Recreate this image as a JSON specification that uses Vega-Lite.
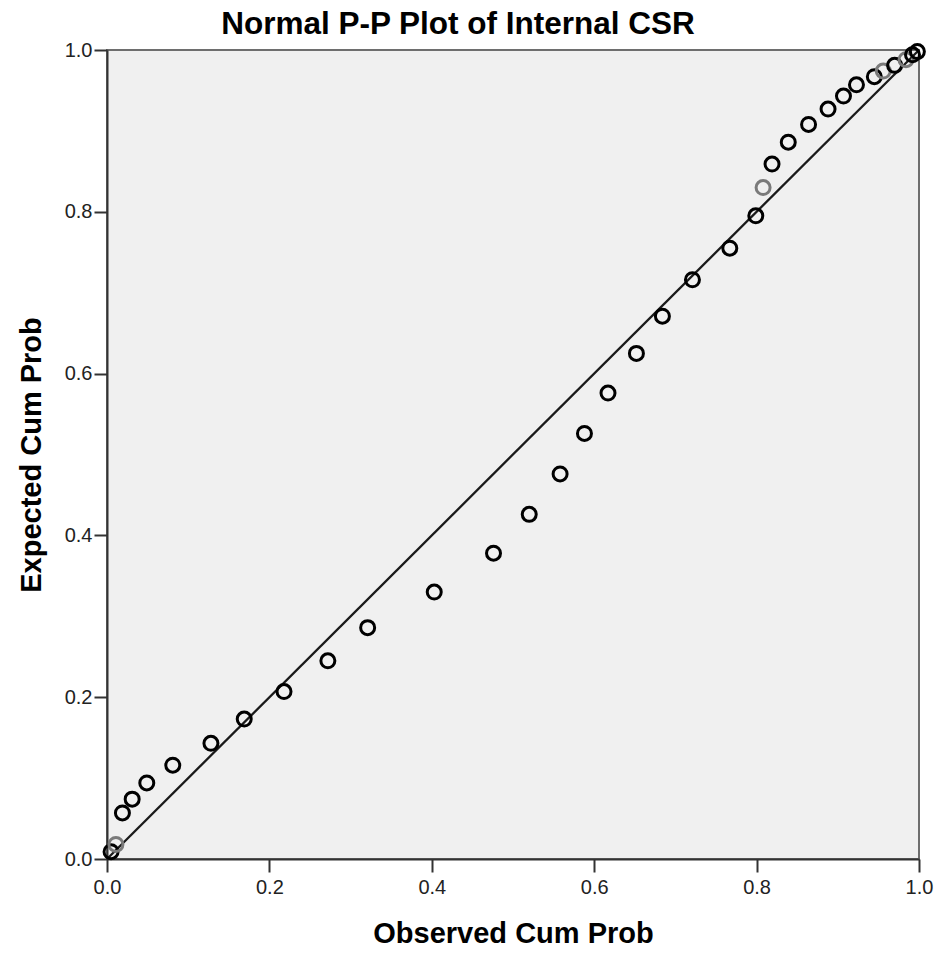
{
  "$schema": "https://vega.github.io/schema/vega-lite/v6.json",
  "autosize": {"type": "none"},
  "padding": {"left": 107, "top": 50, "right": 21, "bottom": 94},
  "width": 812,
  "height": 809,
  "background": "white",
  "config": {
    "font": "Liberation Sans",
    "view": {"fill": "#f0f0f0", "stroke": "#6e6e6e", "strokeWidth": 2}
  },
  "title": {
    "text": "Normal P-P Plot of Internal CSR",
    "font": "Liberation Sans",
    "fontSize": 31.5,
    "fontWeight": "bold",
    "color": "#000000",
    "anchor": "middle",
    "dx": -55,
    "offset": -2
  },
  "layer": [
    {
      "data": {"values": [{"x": 0, "y": 0}, {"x": 1, "y": 1}]},
      "mark": {"type": "line", "color": "#1a1a1a", "strokeWidth": 2.3},
      "encoding": {
        "x": {"field": "x", "type": "quantitative", "scale": {"domain": [0, 1], "nice": false, "zero": false},
          "axis": {"title": "Observed Cum Prob", "values": [0, 0.2, 0.4, 0.6, 0.8, 1], "format": ".1f", "grid": false,
            "domainColor": "#333333", "domainWidth": 2, "tickColor": "#333333", "tickWidth": 2, "tickSize": 13,
            "labelFontSize": 20, "labelColor": "#222222", "labelPadding": 5, "labelFlush": false, "labelOverlap": false,
            "titleFontSize": 29, "titleFontWeight": "bold", "titleColor": "#000000", "titlePadding": 22}},
        "y": {"field": "y", "type": "quantitative", "scale": {"domain": [0, 1], "nice": false, "zero": false},
          "axis": {"title": "Expected Cum Prob", "values": [0, 0.2, 0.4, 0.6, 0.8, 1], "format": ".1f", "grid": false,
            "domainColor": "#333333", "domainWidth": 2, "tickColor": "#333333", "tickWidth": 2, "tickSize": 13,
            "labelFontSize": 20, "labelColor": "#222222", "labelPadding": 2, "labelFlush": false, "labelOverlap": false,
            "titleFontSize": 29, "titleFontWeight": "bold", "titleColor": "#000000", "titlePadding": 18}}
      }
    },
    {
      "data": {"values": [
        {"x": 0.005, "y": 0.009, "cases": "multiple"},
        {"x": 0.011, "y": 0.018, "cases": "single"},
        {"x": 0.019, "y": 0.057, "cases": "multiple"},
        {"x": 0.031, "y": 0.074, "cases": "multiple"},
        {"x": 0.049, "y": 0.094, "cases": "multiple"},
        {"x": 0.081, "y": 0.116, "cases": "multiple"},
        {"x": 0.128, "y": 0.143, "cases": "multiple"},
        {"x": 0.169, "y": 0.173, "cases": "multiple"},
        {"x": 0.218, "y": 0.207, "cases": "multiple"},
        {"x": 0.272, "y": 0.245, "cases": "multiple"},
        {"x": 0.321, "y": 0.286, "cases": "multiple"},
        {"x": 0.403, "y": 0.330, "cases": "multiple"},
        {"x": 0.476, "y": 0.378, "cases": "multiple"},
        {"x": 0.520, "y": 0.426, "cases": "multiple"},
        {"x": 0.558, "y": 0.476, "cases": "multiple"},
        {"x": 0.588, "y": 0.526, "cases": "multiple"},
        {"x": 0.617, "y": 0.576, "cases": "multiple"},
        {"x": 0.652, "y": 0.625, "cases": "multiple"},
        {"x": 0.684, "y": 0.671, "cases": "multiple"},
        {"x": 0.721, "y": 0.716, "cases": "multiple"},
        {"x": 0.767, "y": 0.755, "cases": "multiple"},
        {"x": 0.799, "y": 0.795, "cases": "multiple"},
        {"x": 0.808, "y": 0.830, "cases": "single"},
        {"x": 0.819, "y": 0.859, "cases": "multiple"},
        {"x": 0.839, "y": 0.886, "cases": "multiple"},
        {"x": 0.864, "y": 0.908, "cases": "multiple"},
        {"x": 0.888, "y": 0.927, "cases": "multiple"},
        {"x": 0.907, "y": 0.943, "cases": "multiple"},
        {"x": 0.923, "y": 0.957, "cases": "multiple"},
        {"x": 0.945, "y": 0.967, "cases": "multiple"},
        {"x": 0.956, "y": 0.974, "cases": "single"},
        {"x": 0.970, "y": 0.981, "cases": "multiple"},
        {"x": 0.984, "y": 0.988, "cases": "single"},
        {"x": 0.992, "y": 0.994, "cases": "multiple"},
        {"x": 0.998, "y": 0.998, "cases": "multiple"}
      ]},
      "mark": {"type": "point", "shape": "circle", "filled": false, "size": 196, "strokeWidth": 3, "opacity": 1},
      "encoding": {
        "x": {"field": "x", "type": "quantitative", "scale": {"domain": [0, 1], "nice": false, "zero": false}},
        "y": {"field": "y", "type": "quantitative", "scale": {"domain": [0, 1], "nice": false, "zero": false}},
        "color": {"field": "cases", "type": "nominal", "scale": {"domain": ["single", "multiple"], "range": ["#7a7a7a", "#000000"]}, "legend": null}
      }
    }
  ]
}
